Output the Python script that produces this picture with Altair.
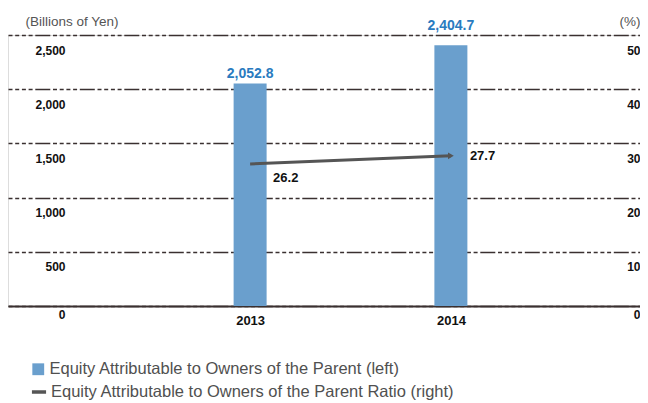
import altair as alt
import pandas as pd

years = [2013, 2014]
equity = [2052.8, 2404.7]
ratio = [26.2, 27.7]
left_ticks = [0, 500, 1000, 1500, 2000, 2500]
right_ticks = [0, 10, 20, 30, 40, 50]
series_names = ["Equity Attributable to Owners of the Parent (left)",
                "Equity Attributable to Owners of the Parent Ratio (right)"]

df = pd.DataFrame({"year": years, "equity": equity, "ratio": ratio})
df["equity_label"] = [f"{v:,.1f}" for v in equity]
df["ratio_label"] = [f"{v:.1f}" for v in ratio]
df["bar_series"] = series_names[0]
df["line_series"] = series_names[1]

FONT = "Liberation Sans"
GRID = "#3a3030"
DASH = [4, 2.7, 4, 2.7, 4, 2.7, 4, 2.7, 15, 2.7]
BAR = "#6a9fcd"
LINE = "#555555"

xscale = alt.Scale(domain=[2011.819, 2014.917], nice=False, zero=False)
xenc = alt.X("year:Q", scale=xscale, axis=alt.Axis(
    values=years, format="d", title=None, grid=False, ticks=False, tickSize=0,
    domain=True, domainColor=GRID, domainWidth=2,
    labelFont=FONT, labelFontWeight="bold", labelFontSize=13, labelColor="#111",
    labelPadding=8, labelBaseline="top"))

yl = alt.Y("equity:Q", scale=alt.Scale(domain=[0, 2500], nice=False), axis=alt.Axis(
    values=left_ticks, format=",d", title="(Billions of Yen)", titleAngle=0,
    titleAlign="left", titleBaseline="middle", titleX=17, titleY=-14,
    titleFont=FONT, titleFontWeight="normal", titleFontSize=13.5, titleColor="#555",
    grid=True, gridColor=GRID, gridDash=DASH, gridWidth=1.6,
    domain=False, ticks=False, tickSize=0,
    labelFont=FONT, labelFontWeight="bold", labelFontSize=12, labelColor="#111",
    labelAlign="right", labelPadding=-57, labelBaseline="top",
    labelOffset=alt.expr("datum.value == 0 ? 3 : 10")))

yr = alt.Y("ratio:Q", scale=alt.Scale(domain=[0, 50], nice=False), axis=alt.Axis(
    values=right_ticks, format="d", title="(%)", titleAngle=0,
    titleAlign="right", titleBaseline="middle", titleX=0, titleY=-14,
    titleFont=FONT, titleFontWeight="normal", titleFontSize=13.5, titleColor="#555",
    grid=False, domain=False, ticks=False, tickSize=0,
    labelFont=FONT, labelFontWeight="bold", labelFontSize=12, labelColor="#111",
    labelAlign="right", labelPadding=0, labelBaseline="top",
    labelOffset=alt.expr("datum.value == 0 ? 3 : 10")))

base = alt.Chart(df)

bars = base.mark_bar(size=33, color=BAR).encode(
    x=xenc, y=yl,
    fill=alt.Fill("bar_series:N", scale=alt.Scale(range=[BAR]), legend=alt.Legend(
        title=None, orient="none", legendX=22, legendY=326, symbolType="square",
        symbolSize=140, symbolStrokeWidth=0, labelFont=FONT, labelFontSize=16.5,
        labelColor="#505050", labelOffset=3, labelLimit=600)))
lab_eq13 = base.transform_filter("datum.year == 2013").mark_text(
    font=FONT, fontWeight="bold", fontSize=14, color="#2a7bbf",
    baseline="bottom", dy=-2).encode(x="year:Q", y="equity:Q", text="equity_label:N")
lab_eq14 = base.transform_filter("datum.year == 2014").mark_text(
    font=FONT, fontWeight="bold", fontSize=14, color="#2a7bbf",
    baseline="bottom", dy=-12).encode(x="year:Q", y="equity:Q", text="equity_label:N")
left_layer = alt.layer(bars, lab_eq13, lab_eq14)

line = base.mark_line(strokeWidth=3).encode(
    x="year:Q", y=yr,
    stroke=alt.Stroke("line_series:N", scale=alt.Scale(range=[LINE]), legend=alt.Legend(
        title=None, orient="none", legendX=22, legendY=348, symbolType="stroke",
        symbolSize=200, symbolStrokeWidth=3.5, labelFont=FONT, labelFontSize=16.5,
        labelColor="#505050", labelOffset=3, labelLimit=600)))
arrow = base.transform_filter("datum.year == 2014").mark_point(
    shape="triangle-right", filled=True, size=45, color=LINE, opacity=1).encode(
    x="year:Q", y="ratio:Q")
lab13 = base.transform_filter("datum.year == 2013").mark_text(
    font=FONT, fontWeight="bold", fontSize=13, color="#111", align="left",
    dx=23, dy=14).encode(x="year:Q", y="ratio:Q", text="ratio_label:N")
lab14 = base.transform_filter("datum.year == 2014").mark_text(
    font=FONT, fontWeight="bold", fontSize=13, color="#111", align="left",
    dx=19, dy=0).encode(x="year:Q", y="ratio:Q", text="ratio_label:N")
right_layer = alt.layer(line, arrow, lab13, lab14)

chart = alt.layer(left_layer, right_layer).resolve_scale(y="independent").properties(
    width=632, height=271,
    autosize=alt.AutoSizeParams(type="none"),
    padding={"left": 0, "top": 27, "right": 0, "bottom": 96},
).configure_view(stroke=None).configure(background="white")

chart.save("out.html", embed_options={"renderer": "svg", "actions": False})
